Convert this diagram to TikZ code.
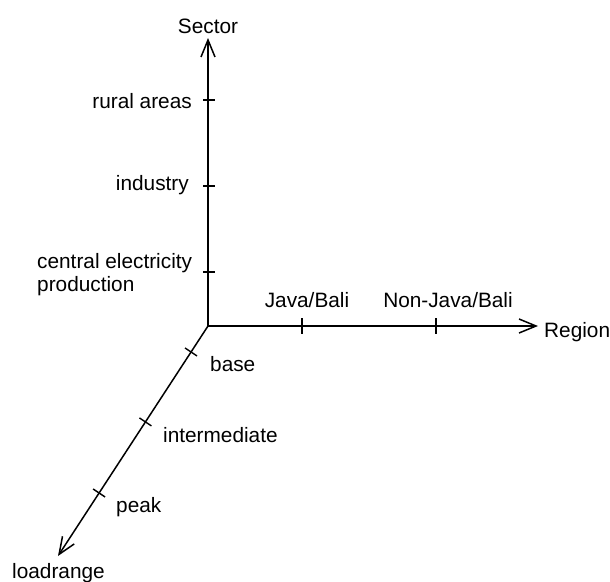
\documentclass[tikz,border=0pt]{standalone}
\usepackage{fontspec}
\setmainfont{Liberation Sans}
\usetikzlibrary{arrows.meta,calc}
\begin{document}
\begin{tikzpicture}[x=1pt,y=-1pt,
  font=\fontsize{20.8}{23}\selectfont,
  axis/.style={line width=1.5pt,-{Straight Barb[length=17pt,width=14pt]}},
  tick/.style={line width=1.4pt},
  lbl/.style={inner sep=0pt,align=left}]
\useasboundingbox (0,0) rectangle (610,581);

% axes
\coordinate (O) at (208,326);
\coordinate (S) at (208,38);
\coordinate (R) at (538,326);
\coordinate (L) at (58,556);
\draw[axis] (O) -- (S);
\draw[axis] (O) -- (R);
\draw[axis] (O) -- (L);

% axis titles
\node[lbl,anchor=base] (sector) at (208,33) {Sector};
\node[lbl,anchor=base west] (region) at (544,337) {Region};
\node[lbl,anchor=base west] (loadrange) at (12,578) {loadrange};

% sector ticks
\foreach \y/\n in {100/s1,186/s2,272/s3}
  \draw[tick] (203,\y) -- (215,\y) coordinate (\n);
\node[lbl,anchor=base east] (rural) at (192,108) {rural areas};
\node[lbl,anchor=base east] (industry) at (189,190) {industry};
\node[lbl,anchor=base west] (central) at (37,291) {central electricity\\production};

% region ticks
\foreach \x/\n in {302/r1,436/r2}
  \draw[tick] (\x,318) -- (\x,334) coordinate (\n);
\node[lbl,anchor=base] (java) at (307,307) {Java/Bali};
\node[lbl,anchor=base] (nonjava) at (448,307) {Non-Java/Bali};

% load range ticks
\foreach \t/\n in {0.113/l1,0.417/l2,0.726/l3}
  \draw[tick] ($(O)!\t!(L)+(-6,-4)$) -- ($(O)!\t!(L)+(6,4)$) coordinate (\n);
\node[lbl,anchor=base west] (base) at (210,371) {base};
\node[lbl,anchor=base west] (inter) at (163,442) {intermediate};
\node[lbl,anchor=base west] (peak) at (116,512) {peak};
\end{tikzpicture}
\end{document}
